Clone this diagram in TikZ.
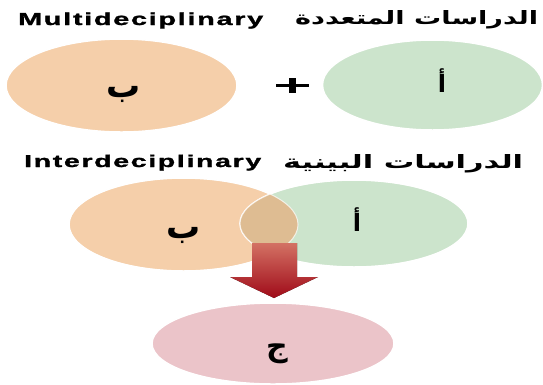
\documentclass[tikz,border=0pt]{standalone}
\usepackage{fontspec}
\setmainfont{Liberation Sans}
\newfontfamily\arabicfont[Script=Arabic]{DejaVu Sans}
\newfontfamily\titlefont[LetterSpace=6,FakeBold=1.2]{Liberation Sans}
\TeXXeTstate=1
\usetikzlibrary{shapes.geometric}
\definecolor{peach}{RGB}{245,207,170}
\definecolor{mint}{RGB}{204,228,204}
\definecolor{pinkc}{RGB}{235,196,201}
\definecolor{khaki}{RGB}{222,188,146}
\definecolor{redtop}{RGB}{228,122,108}
\definecolor{redmid}{RGB}{210,30,45}
\definecolor{redbot}{RGB}{172,10,25}
\tikzset{
  blob/.style={ellipse, draw=white, line width=1.5pt, inner sep=0pt},
  lbl/.style={inner sep=0pt, font=\arabicfont\bfseries\fontsize{24}{26}\selectfont},
  big/.style={font=\arabicfont\bfseries\fontsize{34}{36}\selectfont},
  ttl/.style={anchor=base west, inner sep=0pt},
  rim/.style={draw=white, line width=1pt, opacity=0.7}
}
\begin{document}
\begin{tikzpicture}[x=1pt,y=-1pt]
\useasboundingbox (0,0) rectangle (543,384);
\fill[white] (0,0) rectangle (543,384);

% titles
\node[ttl] (t1en) at (18,25) {\resizebox{245pt}{12.6pt}{\titlefont\bfseries Multideciplinary}};
\node[ttl] (t1ar) at (295,24) {\resizebox{243pt}{14pt}{\arabicfont\bfseries\beginR الدراسات المتعددة\endR}};
\node[ttl] (t2en) at (24,167) {\resizebox{237pt}{12.4pt}{\titlefont\bfseries Interdeciplinary}};
\node[ttl] (t2ar) at (283,168) {\resizebox{240pt}{14pt}{\arabicfont\bfseries\beginR الدراسات البينية\endR}};

% multidisciplinary
\node[blob, fill=peach, minimum width=231pt, minimum height=93pt] (B1) at (121.5,85.5) {};
\node[blob, fill=mint, minimum width=220pt, minimum height=90pt] (A1) at (432.5,85) {};
\node[lbl, big] (lb1) at (124,94) {ب};
\node[lbl] (la1) at (442,81) {أ};
\coordinate (plus) at (292.5,85.5);
\draw[line width=3.5pt] ([xshift=-16.5pt]plus) -- ([xshift=16.5pt]plus);
\draw[line width=7pt] ([yshift=7.5pt]plus) -- ([yshift=-7.5pt]plus);

% interdisciplinary
\node[blob, fill=peach, minimum width=229pt, minimum height=93pt] (B2) at (183.5,224.5) {};
\node[blob, fill=mint, minimum width=228pt, minimum height=87pt] (A2) at (354,223.5) {};
\begin{scope}
  \clip (183.5,224.5) ellipse [x radius=114.5, y radius=46.5];
  \fill[khaki] (354,223.5) ellipse [x radius=114, y radius=43.5];
\end{scope}
\draw[rim] (183.5,224.5) ellipse [x radius=114.5, y radius=46.5];
\draw[rim] (354,223.5) ellipse [x radius=114, y radius=43.5];
\node[lbl, big] (lb2) at (184,235) {ب};
\node[lbl] (la2) at (357,220) {أ};

% arrow
\fill[top color=redtop, middle color=redmid, bottom color=redbot, fill opacity=0.92]
  (252,243) -- (297,243) -- (297,277) -- (318,277) -- (274,298) -- (230,277) -- (252,277) -- cycle;

\node[blob, fill=pinkc, minimum width=242pt, minimum height=81pt] (C) at (273,343.5) {};
\node[lbl, font=\arabicfont\bfseries\fontsize{30}{32}\selectfont] (lc) at (277,354) {ج};
\end{tikzpicture}
\end{document}
